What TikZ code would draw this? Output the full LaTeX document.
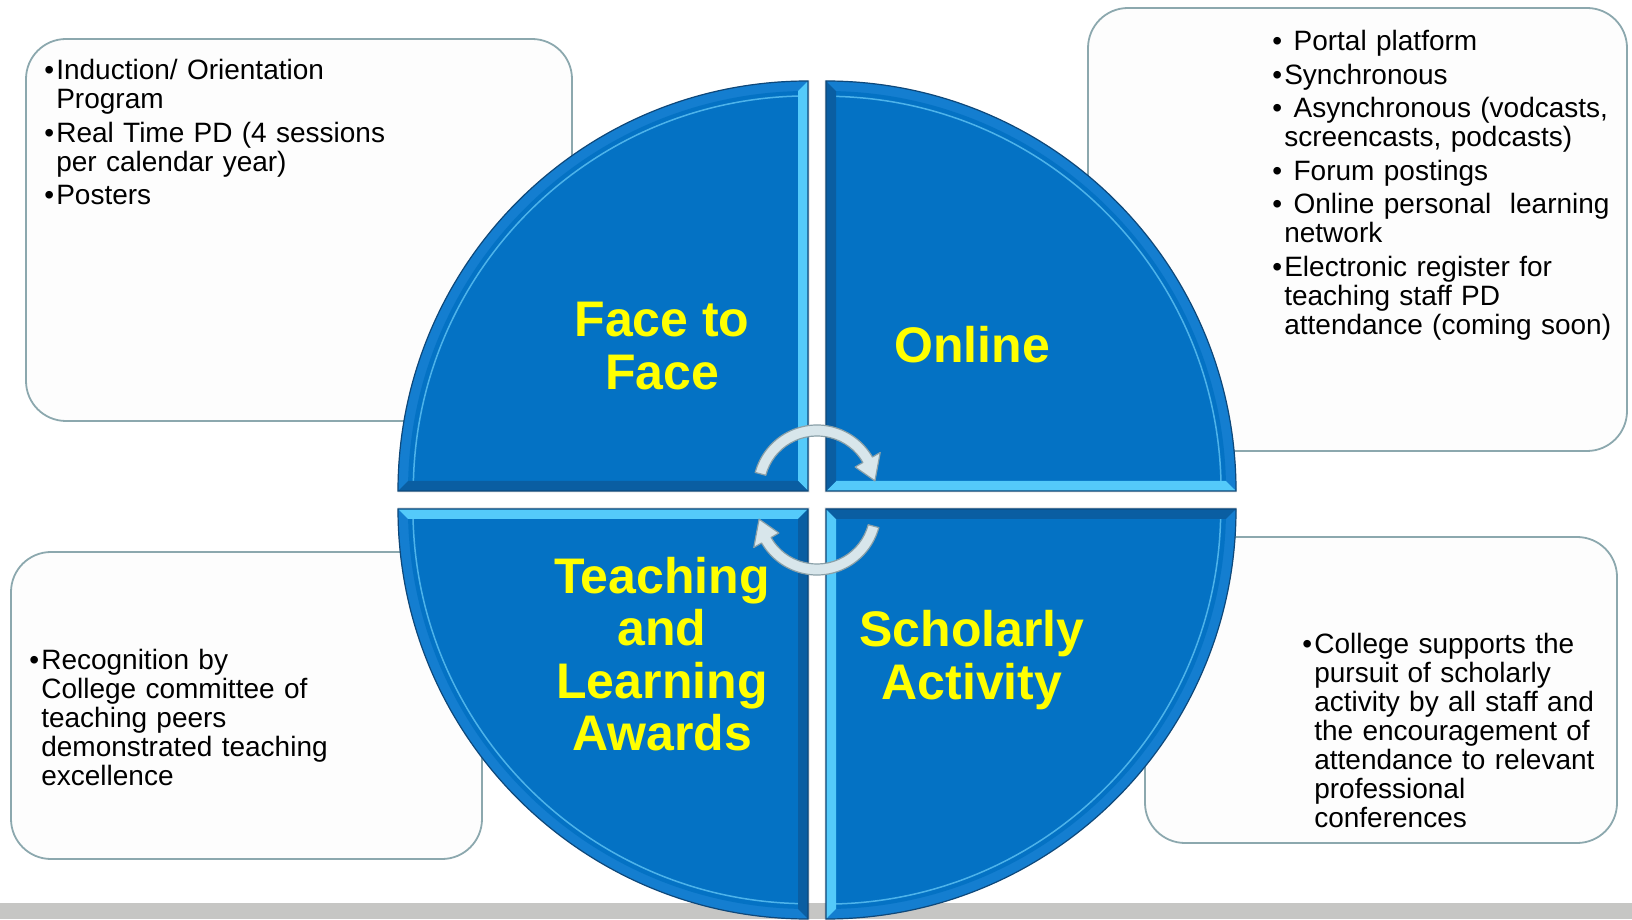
\documentclass[tikz,border=0pt]{standalone}
\usepackage{fontspec}
\setmainfont{Liberation Sans}
\usetikzlibrary{positioning}
\definecolor{quarterblue}{RGB}{4,114,196}
\definecolor{bevelmid}{RGB}{20,126,208}
\definecolor{bevellight}{RGB}{84,202,250}
\definecolor{beveldark}{RGB}{10,94,162}
\definecolor{bevelline}{RGB}{96,196,244}
\definecolor{quarteredge}{RGB}{14,72,122}
\definecolor{titleyellow}{RGB}{255,255,0}
\definecolor{boxline}{RGB}{140,168,174}
\definecolor{boxfill}{RGB}{253,253,253}
\definecolor{arrowfill}{RGB}{216,230,235}
\definecolor{arrowline}{RGB}{138,160,168}
\definecolor{stripgray}{RGB}{198,198,196}
\newlength\Bulletwd
\setlength\Bulletwd{12pt}
\newcommand\Item[1]{%
  \hangindent=\Bulletwd\hangafter=1\noindent
  \makebox[\Bulletwd][l]{\textbullet}#1\par}
\newcommand\Quadrant[1]{%
  \begin{scope}[shift={(817,419)}, rotate=#1]
    \fill[black, opacity=0.12] (-7.5,7.5) -- (-7.5,419.5)
      arc[start angle=90, end angle=180, radius=412] -- cycle;
    \fill[bevelmid] (-9,9) -- (-9,419)
      arc[start angle=90, end angle=180, radius=410] -- cycle;
    \fill[quarterblue] (-19,19) -- (-19,408.9)
      arc[start angle=91.43, end angle=178.57, radius=400] -- cycle;
    \draw[bevelline, line width=1.5, opacity=0.8] (-17,404)
      arc[start angle=91.2, end angle=178.8, radius=395];
    \fill[bevellight] (-9,9) -- (-9,419) -- (-19,408.9) -- (-19,19) -- cycle;
    \fill[beveldark] (-9,9) -- (-419,9) -- (-408.9,19) -- (-19,19) -- cycle;
    \draw[quarteredge, line width=1.2] (-9,9) -- (-9,419)
      arc[start angle=90, end angle=180, radius=410] -- cycle;
  \end{scope}}
\newcommand\TurnArrow[1]{%
  \begin{scope}[shift={(817,419)}, rotate=#1, shift={(0,11)}]
    \filldraw[fill=arrowfill, draw=arrowline, line width=1.2, line join=round]
      (165:64) arc[start angle=165, end angle=30, radius=64]
      -- (30:73) -- (8:58.5) -- (30:44) -- (30:53)
      arc[start angle=30, end angle=165, radius=53] -- cycle;
  \end{scope}}

\begin{document}
\begin{tikzpicture}[x=1pt, y=1pt,
box/.style={
  draw=boxline, line width=1.8, fill=boxfill,
  rounded corners=40pt, inner sep=0pt
},
itemtext/.style={
  font=\fontsize{28}{29}\selectfont,
  text width=420pt, align=left, inner sep=0pt,
  execute at begin node={\setlength{\parskip}{4.5pt}}
},
title/.style={
  font=\fontsize{50}{52.5}\selectfont\bfseries,
  text=titleyellow, align=center, inner sep=0pt
}]
\useasboundingbox (0,0) rectangle (1632,919);
\fill[stripgray] (0,0) rectangle (1632,16);

% the four text boxes
\node (f2fbox) [box, minimum width=546pt, minimum height=382pt] at (299,689) {};
\node (onlinebox) [box, minimum width=539pt, minimum height=443pt] at (1357.5,689.5) {};
\node (awardsbox) [box, minimum width=471pt, minimum height=307pt] at (246.5,213.5) {};
\node (scholarbox) [box, minimum width=472pt, minimum height=306pt] at (1381,229) {};

\node (f2ftext) [itemtext, below right=21pt and 19pt of f2fbox.north west] {%
\Item{Induction/ Orientation\newline Program}
\Item{Real Time PD (4 sessions\newline per calendar year)}
\Item{Posters}};
\node (onlinetext) [itemtext, below right=23pt and 185pt of onlinebox.north west] {%
\Item{\ Portal platform}
\Item{Synchronous}
\Item{\ Asynchronous (vodcasts,\newline screencasts, podcasts)}
\Item{\ Forum postings}
\Item{\ Online personal\ \ learning\newline network}
\Item{Electronic register for\newline teaching staff PD\newline attendance (coming soon)}};
\node (awardstext) [itemtext, below right=98pt and 19pt of awardsbox.north west] {%
\Item{Recognition by\newline College committee of\newline teaching peers\newline
demonstrated teaching\newline excellence}};
\node (scholartext) [itemtext, below right=97pt and 158pt of scholarbox.north west] {%
\Item{College supports the\newline pursuit of scholarly\newline activity by all staff and\newline
the encouragement of\newline attendance to relevant\newline professional\newline conferences}};

% circle of quadrants
\Quadrant{0}
\Quadrant{-90}
\Quadrant{-180}
\Quadrant{-270}
\TurnArrow{0}
\TurnArrow{180}

\node (f2f) [title] at (662,573) {Face to\\Face};
\node (online) [title] at (972,574) {Online};
\node (awards) [title] at (662,265) {Teaching\\and\\Learning\\Awards};
\node (scholarly) [title] at (972,259) {Scholarly\\Activity};
\end{tikzpicture}
\end{document}
